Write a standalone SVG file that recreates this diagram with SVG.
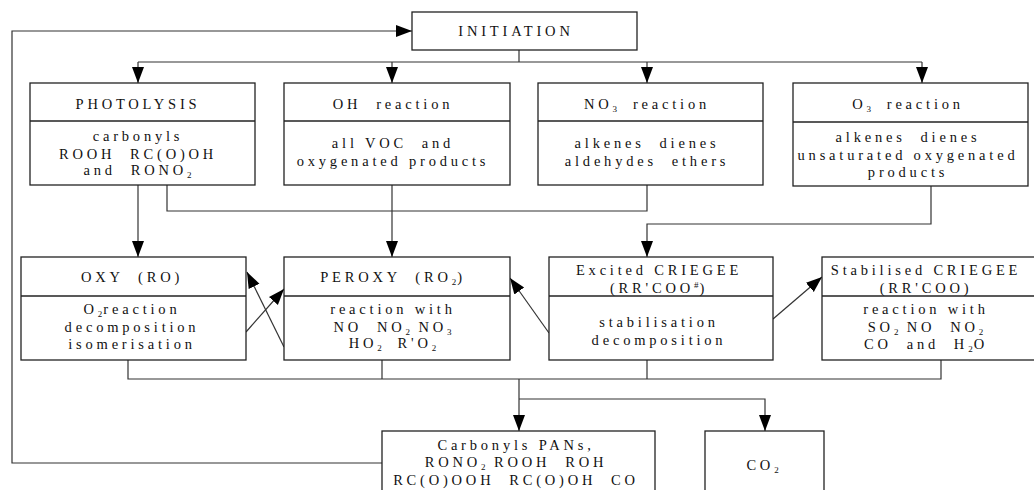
<svg xmlns="http://www.w3.org/2000/svg" width="1034" height="490" viewBox="0 0 1034 490">
<defs>
<style>
.box{fill:#fff;stroke:#222;stroke-width:1.3}
.div{stroke:#222;stroke-width:1.3}
.con{fill:none;stroke:#333;stroke-width:1.2}
text{font-family:"Liberation Serif","Times New Roman",serif;font-size:14.5px;letter-spacing:3.8px;fill:#111;text-anchor:middle;white-space:pre}
.s{font-size:9px;letter-spacing:1px}
</style>
<marker id="ah" markerUnits="userSpaceOnUse" markerWidth="17" markerHeight="13" refX="16" refY="6" orient="auto">
<path d="M0,0 L16,6 L0,12 z" fill="#000"/>
</marker>
</defs>
<rect width="1034" height="490" fill="#fff"/>

<g id="connectors">
<path class="con" d="M382,463 H12 V31 H412" marker-end="url(#ah)"/>
<path class="con" d="M519,50 V62 M138,62 H922"/>
<path class="con" d="M138,62 V83" marker-end="url(#ah)"/>
<path class="con" d="M392,62 V83" marker-end="url(#ah)"/>
<path class="con" d="M647,62 V83" marker-end="url(#ah)"/>
<path class="con" d="M922,62 V83" marker-end="url(#ah)"/>
<path class="con" d="M138,185 V257" marker-end="url(#ah)"/>
<path class="con" d="M167,185 V211 H647 V185"/>
<path class="con" d="M392,185 V257" marker-end="url(#ah)"/>
<path class="con" d="M931,186 V224 H647 V257" marker-end="url(#ah)"/>
<path class="con" d="M246,332 L284,289" marker-end="url(#ah)"/>
<path class="con" d="M284,347 L247,272" marker-end="url(#ah)"/>
<path class="con" d="M549,333 L510,278" marker-end="url(#ah)"/>
<path class="con" d="M773,319 L822,277" marker-end="url(#ah)"/>
<path class="con" d="M128,360 V379 H941 V360 M382,360 V379 M647,360 V379"/>
<path class="con" d="M519,379 V431" marker-end="url(#ah)"/>
<path class="con" d="M519,399 H765 V431" marker-end="url(#ah)"/>
</g>

<g id="initiation">
<rect class="box" x="412" y="12" width="225" height="38"/>
<text x="516" y="36">INITIATION</text>
</g>

<g id="photolysis">
<rect class="box" x="30" y="83" width="225" height="102"/>
<line class="div" x1="30" y1="121" x2="255" y2="121"/>
<text x="138" y="109">PHOTOLYSIS</text>
<text x="138" y="141">carbonyls</text>
<text x="138" y="159">ROOH  RC(O)OH</text>
<text x="138" y="175">and  RONO<tspan class="s" dy="3">2</tspan></text>
</g>

<g id="oh">
<rect class="box" x="284" y="83" width="226" height="102"/>
<line class="div" x1="284" y1="121" x2="510" y2="121"/>
<text x="393" y="109">OH  reaction</text>
<text x="393" y="148">all VOC  and</text>
<text x="393" y="166">oxygenated products</text>
</g>

<g id="no3">
<rect class="box" x="538" y="83" width="225" height="102"/>
<line class="div" x1="538" y1="121" x2="763" y2="121"/>
<text x="647" y="109">NO<tspan class="s" dy="3">3</tspan><tspan dy="-3">  reaction</tspan></text>
<text x="647" y="148">alkenes  dienes</text>
<text x="647" y="166">aldehydes  ethers</text>
</g>

<g id="o3">
<rect class="box" x="793" y="83" width="235" height="103"/>
<line class="div" x1="793" y1="122" x2="1028" y2="122"/>
<text x="908" y="109">O<tspan class="s" dy="3">3</tspan><tspan dy="-3">  reaction</tspan></text>
<text x="908" y="142">alkenes  dienes</text>
<text x="908" y="160">unsaturated oxygenated</text>
<text x="908" y="177">products</text>
</g>

<g id="oxy">
<rect class="box" x="21" y="257" width="225" height="103"/>
<line class="div" x1="21" y1="296" x2="246" y2="296"/>
<text x="132" y="282">OXY  (RO)</text>
<text x="132" y="314">O<tspan class="s" dy="3">2</tspan><tspan dy="-3">reaction</tspan></text>
<text x="132" y="332">decomposition</text>
<text x="132" y="349">isomerisation</text>
</g>

<g id="peroxy">
<rect class="box" x="284" y="257" width="226" height="103"/>
<line class="div" x1="284" y1="296" x2="510" y2="296"/>
<text x="393" y="282">PEROXY  (RO<tspan class="s" dy="3">2</tspan><tspan dy="-3">)</tspan></text>
<text x="393" y="314">reaction with</text>
<text x="393" y="332">NO  NO<tspan class="s" dy="3">2</tspan><tspan dy="-3"> NO</tspan><tspan class="s" dy="3">3</tspan></text>
<text x="393" y="348">HO<tspan class="s" dy="3">2</tspan><tspan dy="-3">  R'O</tspan><tspan class="s" dy="3">2</tspan></text>
</g>

<g id="excited">
<rect class="box" x="549" y="257" width="224" height="103"/>
<line class="div" x1="549" y1="296" x2="773" y2="296"/>
<text x="659" y="275">Excited CRIEGEE</text>
<text x="659" y="293">(RR'COO<tspan class="s" dy="-5">#</tspan><tspan dy="5">)</tspan></text>
<text x="659" y="327">stabilisation</text>
<text x="659" y="345">decomposition</text>
</g>

<g id="stabilised">
<rect class="box" x="822" y="257" width="216" height="103"/>
<line class="div" x1="822" y1="296" x2="1038" y2="296"/>
<text x="926" y="275">Stabilised CRIEGEE</text>
<text x="926" y="293">(RR'COO)</text>
<text x="926" y="314">reaction with</text>
<text x="926" y="332">SO<tspan class="s" dy="3">2</tspan><tspan dy="-3"> NO  NO</tspan><tspan class="s" dy="3">2</tspan></text>
<text x="926" y="349">CO  and  H<tspan class="s" dy="3">2</tspan><tspan dy="-3">O</tspan></text>
</g>

<g id="products">
<rect class="box" x="382" y="431" width="273" height="70"/>
<text x="516" y="450">Carbonyls PANs,</text>
<text x="516" y="467">RONO<tspan class="s" dy="3">2</tspan><tspan dy="-3"> ROOH  ROH</tspan></text>
<text x="516" y="485">RC(O)OOH  RC(O)OH  CO</text>
</g>

<g id="co2">
<rect class="box" x="705" y="431" width="119" height="70"/>
<text x="763" y="470">CO<tspan class="s" dy="3">2</tspan></text>
</g>
</svg>
